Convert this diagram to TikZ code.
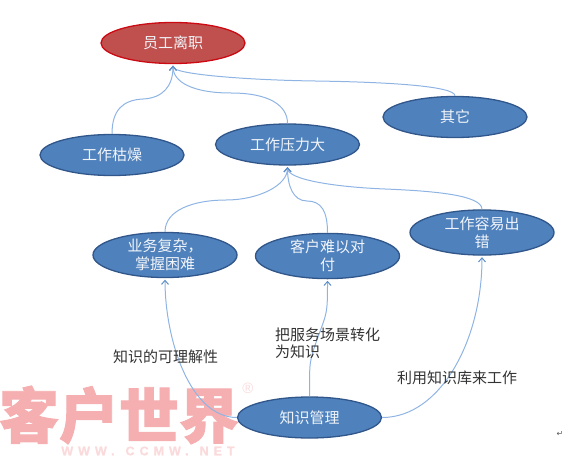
\documentclass[tikz,border=0pt]{standalone}
\usepackage{fontspec}
\setmainfont{Noto Sans CJK SC}
\newfontfamily\symfont{DejaVu Sans}
\newfontfamily\wmcjk[BoldFeatures={FakeBold=1.6}]{Noto Sans CJK SC}
\newfontfamily\wmlat[LetterSpace=40,BoldFeatures={FakeBold=1.2}]{Liberation Sans}
\usetikzlibrary{shapes.geometric,arrows.meta}
\definecolor{nodefill}{HTML}{4F81BD}
\definecolor{nodeline}{HTML}{30568A}
\definecolor{redfill}{HTML}{C0504D}
\definecolor{redline}{HTML}{CC0A14}
\definecolor{linkcol}{HTML}{8FB4E3}
\definecolor{tipcol}{HTML}{5F8FC8}
\definecolor{wmark}{HTML}{F5AFB1}
\definecolor{wmarklight}{HTML}{FADADB}
\definecolor{labelcol}{HTML}{333333}
\tikzset{
  bluenode/.style={ellipse,draw=nodeline,fill=nodefill,line width=1.3pt,minimum width=144pt,minimum height=41pt,inner sep=0pt,text=white!92!nodefill,align=center,font=\fontsize{15}{18}\selectfont},
  rednode/.style={bluenode,draw=redline,fill=redfill},
  link/.style={draw=linkcol,line width=1pt,-{Straight Barb[length=4pt,width=7pt,color=tipcol]},shorten >=1.5pt},
  lbl/.style={text=labelcol,align=left,inner sep=0pt,font=\fontsize{15}{17}\selectfont},
}
\begin{document}
\begin{tikzpicture}[x=1pt,y=-1pt]
\useasboundingbox (0,0) rectangle (580,457);
% watermark
\node[text=wmark,inner sep=0pt,font=\wmcjk\fontsize{60}{60}\selectfont\bfseries] (wm) at (119,415) {客户世界};
\node[text=wmarklight,inner sep=0pt,font=\wmlat\fontsize{15}{15}\selectfont] (wmr) at (248,388) {®};
\node[text=wmarklight,inner sep=0pt,font=\wmlat\fontsize{12.5}{12.5}\selectfont\bfseries] (wmt) at (148,451) {WWW.\hspace{11pt}CCMW.\hspace{11pt}NET};
% nodes
\node[rednode] (quit) at (173,43) {员工离职};
\node[bluenode] (dull) at (112,155) {工作枯燥};
\node[bluenode] (press) at (287.5,144.5) {工作压力大};
\node[bluenode] (other) at (455,117) {其它};
\node[bluenode] (complex) at (165,255) {业务复杂，\\掌握困难};
\node[bluenode] (client) at (327.5,256) {客户难以对\\付};
\node[bluenode] (error) at (482,232.5) {工作容易出\\错};
\node[bluenode] (km) at (309.5,417.5) {知识管理};
% mid points
\coordinate (m1) at (143,99);
\coordinate (m2) at (231,93);
\coordinate (m3) at (315,81);
\coordinate (m4) at (226,200);
\coordinate (m5) at (307,201);
\coordinate (m6) at (385,189);
\coordinate (m7) at (318,337);
% connectors
\draw[link] (dull.north) .. controls +(0,-24) and +(-20,1) .. (m1) .. controls +(20,-1) and +(0,22) .. (quit.south);
\draw[link] (press.north) .. controls +(0,-18) and +(38,0) .. (m2) .. controls +(-38,0) and +(0,18) .. (quit.south);
\draw[link] (other.north) .. controls +(0,-10) and +(70,1) .. (m3) .. controls +(-70,-1) and +(0,10) .. (quit.south);
\draw[link] (complex.north) .. controls +(0,-22) and +(-32,0) .. (m4) .. controls +(32,0) and +(0,20) .. (press.south);
\draw[link] (client.north) .. controls +(0,-22) and +(14,0) .. (m5) .. controls +(-14,0) and +(0,20) .. (press.south);
\draw[link] (error.north) .. controls +(0,-14) and +(50,2) .. (m6) .. controls +(-50,-2) and +(0,14) .. (press.south);
\draw[link] (km.west) .. controls +(-47,0) and +(0,61) .. (complex.south);
\draw[link] (km.north) .. controls +(0,-35) and +(-9,25) .. (m7) .. controls +(9,-25) and +(0,35) .. (client.south);
\draw[link] (km.east) .. controls +(58,0) and +(0,85) .. (error.south);
% labels
\node[lbl,anchor=west] (l1) at (113,357) {知识的可理解性};
\node[lbl,anchor=north west] (l2) at (275,328) {把服务场景转化\\为知识};
\node[lbl,anchor=west] (l3) at (397,378) {利用知识库来工作};
\node[inner sep=0pt,text=black!65,font=\symfont\fontsize{8}{8}\selectfont] (ret) at (560,434) {↵};
\end{tikzpicture}
\end{document}
